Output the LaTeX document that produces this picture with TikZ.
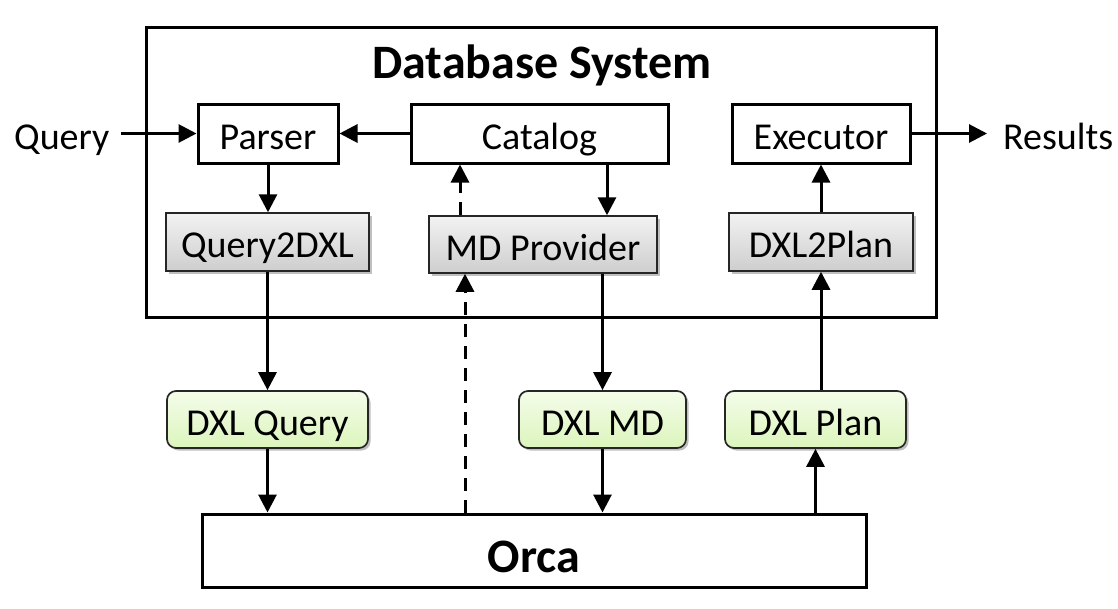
\documentclass[tikz,border=0pt]{standalone}
\usepackage{fontspec}
\setmainfont{Carlito}
\usetikzlibrary{arrows.meta,shadows}
\definecolor{gtop}{RGB}{242,242,242}
\definecolor{gbot}{RGB}{206,206,206}
\definecolor{ltop}{RGB}{244,252,234}
\definecolor{lbot}{RGB}{220,245,188}
\tikzset{
  every node/.style={font=\fontsize{38}{44}\selectfont},
  plain/.style={draw=black, line width=3pt, fill=white, inner sep=0pt, text height=31pt, text depth=0pt},
  graybox/.style={draw=black!85, line width=1.5pt, top color=gtop, bottom color=gbot, inner sep=0pt, text height=31pt, text depth=0pt,
    drop shadow={shadow xshift=2.5pt, shadow yshift=-2.5pt, opacity=0.25, fill=black}},
  greenbox/.style={draw=black!85, line width=1.7pt, top color=ltop, bottom color=lbot, rounded corners=9pt, inner sep=0pt, text height=31pt, text depth=0pt,
    drop shadow={shadow xshift=2.5pt, shadow yshift=-2.5pt, opacity=0.25, fill=black}},
  lbl/.style={inner ysep=0pt, text height=31pt, text depth=0pt},
  tipA/.tip={Triangle[length=18pt,width=18pt]},
  arr/.style={line width=3pt, arrows={-tipA}},
  dsh/.style={dash pattern=on 13pt off 9pt},
}
\begin{document}
\begin{tikzpicture}[x=1pt,y=-1pt]
\useasboundingbox (0,0) rectangle (1118,608);
% outer database system box
\node[draw=black, line width=3pt, minimum width=790pt, minimum height=290pt, inner sep=0pt] (db) at (541,172) {};
\node[font=\fontsize{48}{56}\selectfont\bfseries, anchor=base, inner sep=0pt] (title) at (542,78) {Database System};
% top row
\node[plain, minimum width=140pt, minimum height=59pt] (parser) at (268,133.5) {Parser};
\node[plain, minimum width=257pt, minimum height=59pt] (catalog) at (539.5,133.5) {Catalog};
\node[plain, minimum width=178pt, minimum height=59pt] (executor) at (821,133.5) {Executor};
% gray boxes
\node[graybox, minimum width=203pt, minimum height=58pt] (q2d) at (267.5,242) {Query2DXL};
\node[graybox, minimum width=228pt, minimum height=57pt] (mdp) at (543,244.5) {MD Provider};
\node[graybox, minimum width=184pt, minimum height=58pt] (d2p) at (821,242) {DXL2Plan};
% green boxes
\node[greenbox, minimum width=201pt, minimum height=57pt] (dxlq) at (267.5,419.5) {DXL Query};
\node[greenbox, minimum width=167pt, minimum height=57pt] (dxlmd) at (602.5,419.5) {DXL MD};
\node[greenbox, minimum width=181pt, minimum height=57pt] (dxlplan) at (815.5,419.5) {DXL Plan};
% orca
\node[draw=black, line width=3pt, fill=white, minimum width=664pt, minimum height=73pt, inner sep=0pt,
  font=\fontsize{48}{56}\selectfont\bfseries, text height=43pt, text depth=0pt] (orca) at (534,550.5) {Orca};
% outside labels
\node[lbl, anchor=west, inner xsep=12pt] (query) at (2,133.5) {Query};
\node[lbl, anchor=west, inner xsep=16pt] (results) at (987,133.5) {Results};
% connectors
\draw[arr] (query) -- (parser);
\draw[arr] (catalog) -- (parser);
\draw[arr] (parser.south) -- (parser.south |- q2d.north);
\draw[arr] ([xshift=67.5pt]catalog.south) -- ([xshift=67.5pt]catalog.south |- mdp.north);
\draw[arr, dsh] ([xshift=-83pt]mdp.north) -- ([xshift=-83pt]mdp.north |- catalog.south);
\draw[arr, dsh] ([xshift=-69pt]orca.north) -- ([xshift=-69pt]orca.north |- mdp.south);
\draw[arr] (q2d.south) -- (q2d.south |- dxlq.north);
\draw[arr] (dxlq.south) -- (dxlq.south |- orca.north);
\draw[arr] (dxlmd.north |- mdp.south) -- (dxlmd.north);
\draw[arr] (dxlmd.south) -- (dxlmd.south |- orca.north);
\draw[arr] (dxlplan.south |- orca.north) -- (dxlplan.south);
\draw[arr] (d2p.south |- dxlplan.north) -- (d2p.south);
\draw[arr] (d2p.north) -- (d2p.north |- executor.south);
\draw[arr] (executor) -- (results);
\end{tikzpicture}
\end{document}
